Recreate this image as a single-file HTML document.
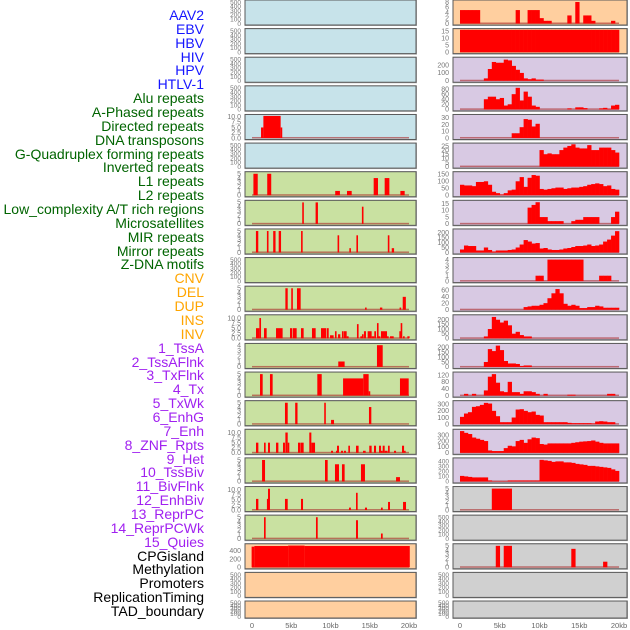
<!DOCTYPE html>
<html><head><meta charset="utf-8">
<style>
html,body{margin:0;padding:0;background:#fff;}
#wrap{position:relative;width:630px;height:630px;overflow:hidden;font-family:"Liberation Sans",sans-serif;}
.lab{position:absolute;right:427px;font-size:14px;line-height:14px;white-space:nowrap;}
svg{position:absolute;left:0;top:0;}
</style></head>
<body>
<div id="wrap">
<svg id="chart" width="630" height="630"></svg>
</div>
<script>
// ----- data -----
const trackLabels = ["AAV2","EBV","HBV","HIV","HPV","HTLV-1","Alu repeats","A-Phased repeats","Directed repeats","DNA transposons","G-Quadruplex forming repeats","Inverted repeats","L1 repeats","L2 repeats","Low_complexity A/T rich regions","Microsatellites","MIR repeats","Mirror repeats","Z-DNA motifs","CNV","DEL","DUP","INS","INV","1_TssA","2_TssAFlnk","3_TxFlnk","4_Tx","5_TxWk","6_EnhG","7_Enh","8_ZNF_Rpts","9_Het","10_TssBiv","11_BivFlnk","12_EnhBiv","13_ReprPC","14_ReprPCWk","15_Quies","CPGisland","Methylation","Promoters","ReplicationTiming","TAD_boundary"];
const labelGroups = [0,0,0,0,0,0,1,1,1,1,1,1,1,1,1,1,1,1,1,2,2,2,2,2,3,3,3,3,3,3,3,3,3,3,3,3,3,3,3,4,4,4,4,4];
const groupColors = ["#1515ff","#006400","#ffa500","#a020f0","#000000"];

const xTickValues = [0,5,10,15,20];
const xTickLabels = ["0","5kb","10kb","15kb","20kb"];

// left column
const leftBg = ["blue","blue","blue","blue","blue","blue","green","green","green","green","green","green","green","green","green","green","green","green","green","orange","orange","orange"];
const leftMax = [520,520,520,520,10.6,520,5.2,5.2,5.2,520,5.2,11,4.1,5.2,5.2,11,5.2,11,5.2,540,520,520];
const leftTicks = [
[0,100,200,300,400,500],[0,100,200,300,400,500],[0,100,200,300,400,500],[0,100,200,300,400,500],
[0,2.5,5,7.5,10],[0,100,200,300,400,500],[0,1,2,3,4,5],[0,1,2,3,4,5],[0,1,2,3,4,5],[0,100,200,300,400,500],
[0,1,2,3,4,5],[0,2.5,5,7.5,10],[0,1,2,3,4],[0,1,2,3,4,5],[0,1,2,3,4,5],[0,2.5,5,7.5,10],[0,1,2,3,4,5],
[0,2.5,5,7.5,10],[0,1,2,3,4,5],[0,200,400],[0,100,200,300,400,500],[0,100,200,300,400,500]];
const leftStarts = [[],[],[],[],
[1.15,1.45,3.65],[],
[0.18,1.94,10.6,12.1,15.5,16.9,18.9],
[6.4,8.1,14.0],
[0.5,1.9,2.7,3.4,6.25,10.9,12.4,13.3,17.3,17.8],
[],
[4.25,5.0,5.73,14.4,16.3,18.8,19.2],
[0.51,0.94,1.53,3.06,4.84,5.22,6.24,7.64,8.79,9.51,9.94,10.57,10.96,11.46,11.72,12.06,13.37,13.8,14.01,14.26,14.73,15.24,15.58,15.92,16.09,16.43,17.2,17.58,18.77,18.94,19.24,19.79],
[10.99,15.92],
[1.02,2.29,8.32,11.6,14.18,14.86,18.85],
[4.2,5.5,9.2,10.07,14.9],
[0.51,1.53,2.04,3.06,3.95,4.25,4.55,5.86,6.2,7.3,7.56,10.07,10.7,10.83,11.34,11.72,12.27,13.25,14.14,14.94,15.54,16.18,16.43,16.65,16.9,17.33,18.09,19.11,19.37],
[1.28,9.3,10.57,11.46,13.88,18.35],
[0.51,1.9,2.04,4.2,6.24,12.36,13.25,14.39,16.43,17.33,19.24],
[1.53,8.15,13.25,16.43],
[-0.05,0.3,4.6,6.7],
[],[]];
const leftEnds = [[],[],[],[],
[1.45,3.65,3.85],[],
[0.73,2.45,11.2,12.7,16.05,17.5,19.45],
[6.6,8.4,14.2],
[0.8,2.1,3.0,3.7,6.45,11.1,12.6,13.5,17.5,18.1],
[],
[4.55,5.2,6.2,14.6,16.6,18.9,19.6],
[0.94,1.15,1.87,3.9,5.14,5.69,6.58,8.11,9.43,9.77,10.4,10.74,11.25,11.68,12.06,12.31,13.58,14.01,14.22,14.52,15.24,15.58,15.8,16.09,16.35,17.2,17.41,18.05,18.94,19.07,19.45,20.08],
[11.8,16.65],
[1.36,2.63,8.88,14.18,14.86,15.0,19.96],
[4.55,5.8,9.4,10.45,15.2],
[0.81,1.74,2.29,3.36,4.2,4.55,4.7,6.16,6.58,7.56,8.03,10.32,10.83,11.08,11.6,11.97,12.48,13.58,14.48,15.24,15.8,16.43,16.65,16.9,17.28,17.54,18.35,19.37,19.5],
[1.66,9.64,11.08,11.8,14.39,18.85],
[0.81,2.04,2.29,4.55,6.5,12.6,13.46,14.65,16.65,17.58,19.62],
[1.74,8.37,13.5,16.65],
[0.3,4.6,6.7,20.1],
[],[]];
const leftVals = [[],[],[],[],
[5,10.5,5],[],
[5,5,1,1,4,4,1],
[5,5,4],
[5,5,5,5,5,4,1,4,4,1],
[],
[5,5,5,0.5,0.5,0.5,3],
[5,10,5,5,5,5,5,5,5,5,1.5,3.5,2,3.5,3.5,1,7,1,2,3.5,3.5,1,3.5,7.5,1,3.5,1,1,3.5,7.5,1,1],
[1,4],
[5,5,5,4,5,1,4],
[5,5,5,1,4],
[5,5,5,5,5,10,5,5,5,10,5,1,1,3.5,1,1,3.5,3.5,1,3.5,3.5,3.5,1,3.5,1,3.5,1,3.5,1],
[5,5,4,4,4,1],
[5.5,5.5,10.5,5.5,5.5,1.2,8.5,1.2,1.2,4,4],
[5,5,4.3,1.2],
[500,515,525,515],
[],[]];

// right column (40 bins of 0.5kb)
const rightBg = ["orange","orange","purple","purple","purple","purple","purple","purple","purple","purple","purple","purple","purple","purple","purple","purple","purple","gray","gray","gray","gray","gray"];
const rightMax = [8.3,16,285,88,33,27,160,16.5,225,4.15,68,240,225,130,335,380,445,5.2,520,5.2,520,520];
const rightTicks = [[0,2,4,6,8],[0,5,10,15],[0,100,200],[0,20,40,60,80],[0,10,20,30],[0,5,10,15,20,25],[0,50,100,150],[0,5,10,15],[0,50,100,150,200],[0,1,2,3,4],[0,20,40,60],[0,50,100,150,200],[0,50,100,150,200],[0,40,80,120],[0,100,200,300],[0,100,200,300],[0,100,200,300,400],[0,1,2,3,4,5],[0,100,200,300,400,500],[0,1,2,3,4,5],[0,100,200,300,400,500],[0,100,200,300,400,500]];
const rightVals = [
[5,5,5,5,5,0,0,0,0,0,0,0,0,0,5,0,0,5,5,5,2,1,1,0,0,0,0,3,0,8,0,3,3,1,0,0,0,0,1,0],
[16,16,16,16,16,16,16,16,16,16,16,16,16,16,16,16,16,16,16,16,16,16,16,16,16,16,16,16,16,16,16,16,16,16,16,16,16,16,16,16],
[0,0,0,0,0,0,30,150,240,230,230,270,260,190,140,100,30,20,30,15,15,0,0,0,0,0,0,0,0,0,0,0,0,0,0,0,0,0,0,0],
[0,0,0,0,0,0,40,50,50,40,45,15,20,60,85,35,70,50,15,10,0,0,0,0,0,0,0,4,0,8,8,5,0,0,0,4,6,2,15,18],
[0,0,0,0,0,0,0,0,0,0,0,0,0,7,7,16,28,27,17,21,0,0,0,0,0,0,0,0,0,0,0,0,0,0,0,0,0,0,0,0],
[0,0,0,0,0,0,0,0,0,0,0,0,0,0,0,0,0,0,0,0,20,15,16,15,15,20,23,25,27,23,22,22,26,20,20,23,23,23,20,17],
[75,70,70,65,95,95,100,75,25,15,5,15,35,40,100,130,60,125,145,140,45,40,45,50,55,55,45,50,55,55,60,65,75,80,85,80,65,70,45,40],
[0,0,0,0,0,0,0,0,0,0,0,0,0,0,0,0,0,12,14,16,5,5,2,2,2,2,0,0,2,3,3,5,5,5,5,0,0,0,5,9],
[30,70,65,65,20,20,50,25,10,20,20,20,25,30,50,80,125,110,90,95,40,45,30,25,25,30,40,45,55,65,65,70,80,65,70,80,110,130,170,215],
[0,0,0,0,0,0,0,0,0,0,0,0,0,0,0,0,0,0,0,1,1,0,4,4,4,4,4,4,4,4,4,0,0,0,0,1,1,1,0,0],
[0,0,0,0,0,0,0,0,0,0,0,0,0,0,0,0,8,10,12,12,15,20,35,50,63,50,18,12,15,12,5,5,8,8,12,10,6,6,6,6],
[0,0,0,0,0,0,20,100,230,200,170,190,140,50,70,35,20,20,0,0,0,0,0,0,0,0,0,0,0,0,0,0,0,0,0,0,0,0,0,0],
[0,0,0,0,0,0,50,180,160,215,170,60,35,35,30,10,15,15,0,0,0,0,0,0,0,0,0,0,0,0,0,0,0,0,0,0,0,0,0,0],
[0,10,0,10,0,0,30,110,125,75,25,20,80,20,20,10,25,25,20,10,0,10,0,0,0,0,0,5,5,0,0,0,0,0,0,0,0,10,10,0],
[110,160,180,260,270,290,320,310,200,120,30,30,30,100,220,225,200,180,190,140,130,30,30,30,30,30,30,20,15,15,15,15,15,10,40,45,40,30,30,0],
[370,340,320,260,240,220,200,40,30,30,30,80,120,110,200,220,170,230,260,250,150,140,160,160,160,160,160,160,170,180,190,195,200,210,190,170,160,160,160,160],
[110,100,90,80,80,80,80,20,5,5,5,5,20,20,20,20,20,20,20,20,430,420,410,390,400,400,380,380,370,350,340,330,310,310,300,290,280,270,240,210],
[0,0,0,0,0,0,0,0,5,5,5,5,5,0,0,0,0,0,0,0,0,0,0,0,0,0,0,0,0,0,0,0,0,0,0,0,0,0,0,0],
[],
[0,0,0,0,0,0,0,0,0,5,0,5,5,0,0,0,0,0,0,0,0,0,0,0,0,0,0,0,4.3,0,0,0,0,0,0,0,1.3,0,0,0],
[],[]];

// ----- layout / axes -----
const bgColors = {blue:"#c7e3ea",green:"#c9e1a1",orange:"#ffcf9f",purple:"#d8c9e3",gray:"#d0d0d0"};
const ROWS = 22;
function rowTop(i){ return i*28.62; }
function rowH(i){ return i===ROWS-1 ? 17 : 25; }
const L = {x0:245,x1:416,kb0:252,kbScale:7.85,tickX:241};
const R = {x0:453,x1:627,kb0:460,kbScale:7.95,tickX:449};
function xScale(col,kb){ return col.kb0 + kb*col.kbScale; }
function yScale(i,v,max){ const t=rowTop(i)+1.2, b=rowTop(i)+rowH(i)-1.5; return b-(v/max)*(b-t); }

const NS="http://www.w3.org/2000/svg";
const svg=document.getElementById('chart');
function mk(tag,attrs,parent){ const e=document.createElementNS(NS,tag); for(const k in attrs) e.setAttribute(k,attrs[k]); (parent||svg).appendChild(e); return e; }

function fmt(v){ return (Number.isInteger(v) ? String(v) : v.toFixed(1)); }

function drawPanel(col,i,bg,max,ticks,side){
  const g=mk('g',{});
  
  
  const top=rowTop(i), h=rowH(i);
  const shadow=mk('rect',{x:col.x0-0.5,y:top-0.5,width:col.x1-col.x0+1.5,height:h+1.5,fill:'#aaa'},g);
  
  
  const r=mk('rect',{x:col.x0,y:top,width:col.x1-col.x0,height:h,fill:bgColors[bg],stroke:'#5a5a5a','stroke-width':1},g);
  
  
  const tickFont = max>=100 && ticks.length>4 && ticks[ticks.length-1]>=400 ? 6.5 : 7;
  ticks.forEach(t=>{
    const tx=mk('text',{x:col.tickX,y:yScale(i,t,max)+2.3,'font-size':tickFont,fill:'#777','text-anchor':'end','font-family':'Liberation Sans, sans-serif'},g);
    tx.textContent = (max<12 && !Number.isInteger(ticks[1])) ? t.toFixed(1) : fmt(t);
    
    
  });
  return g;
}
function baseline(g,col,i,max){
  const b=mk('rect',{x:xScale(col,0),y:yScale(i,0,max)-1,width:xScale(col,20)-xScale(col,0),height:1.5,fill:'rgba(170,40,40,0.6)'},g);
  
  
}

for(let i=0;i<ROWS;i++){
  const gl=drawPanel(L,i,leftBg[i],leftMax[i],leftTicks[i],'left');
  if(leftStarts[i].length) baseline(gl,L,i,leftMax[i]);
  leftStarts[i].forEach((s,k)=>{
    const x0=xScale(L,s), x1=xScale(L,leftEnds[i][k]);
    const y=yScale(i,Math.min(leftVals[i][k],leftMax[i]),leftMax[i]), y0=yScale(i,0,leftMax[i]);
    const bar=mk('rect',{x:x0,y:y,width:Math.max(1.6,x1-x0),height:y0-y,fill:'#ff0000'},gl);
    
    
  });
  const gr=drawPanel(R,i,rightBg[i],rightMax[i],rightTicks[i],'right');
  if(rightVals[i].length) baseline(gr,R,i,rightMax[i]);
  rightVals[i].forEach((v,k)=>{
    if(v<=0) return;
    const x0=xScale(R,k*0.5), x1=xScale(R,(k+1)*0.5);
    const y=yScale(i,Math.min(v,rightMax[i]),rightMax[i]), y0=yScale(i,0,rightMax[i]);
    const bar=mk('rect',{x:x0,y:y,width:x1-x0+0.3,height:y0-y,fill:'#ff0000'},gr);
    
    
  });
}
[L,R].forEach((col,ci)=>{
  xTickValues.forEach((v,k)=>{
    const t=mk('text',{x:xScale(col,v),y:628,'font-size':7.5,fill:'#666','text-anchor':'middle','font-family':'Liberation Sans, sans-serif'});
    t.textContent=xTickLabels[k];
    
    
  });
});
const wrap=document.getElementById('wrap');
trackLabels.forEach((s,k)=>{
  const d=document.createElement('div');
  d.className='lab';
  d.style.top=(8+k*13.86)+'px';
  d.style.color=groupColors[labelGroups[k]];
  d.style.right=(630-204)+'px';
  d.textContent=s;
  
  
  wrap.appendChild(d);
});
</script>
</body></html>
